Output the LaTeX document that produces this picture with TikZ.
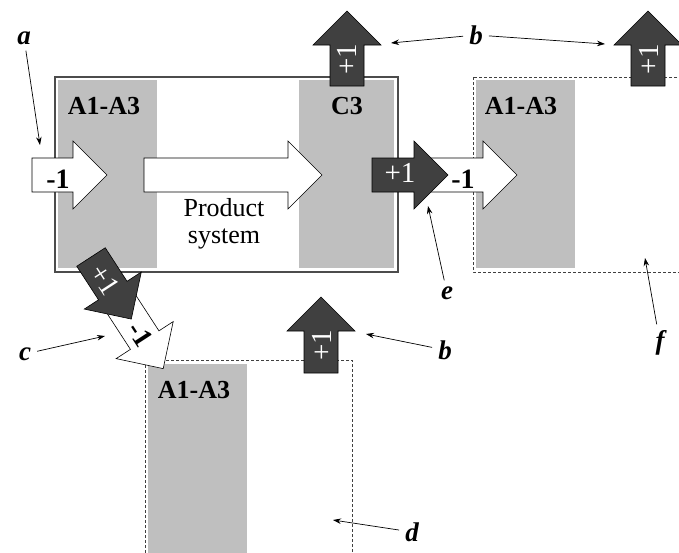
\documentclass[tikz,border=0pt]{standalone}
\usepackage{fontspec}
\setmainfont{Liberation Serif}
\usetikzlibrary{arrows.meta}

% block arrow: style, tail point, angle, shaft length
\newcommand{\blockarrow}[4]{%
  \path[#1, shift={#2}, rotate=#3] (0,-17) -- (#4,-17) -- (#4,-34) -- ({#4+34},0)
    -- (#4,34) -- (#4,17) -- (0,17) -- cycle;}

\begin{document}
\begin{tikzpicture}[x=1pt, y=-1pt,
    mainbox/.style={draw=black!70, line width=1.1pt},
    nextbox/.style={draw=black!75, line width=0.8pt, dash pattern=on 3pt off 2pt},
    stagebox/.style={fill=gray!50},
    stagelabel/.style={font=\fontsize{26}{28}\selectfont\bfseries, inner sep=0pt},
    whitearrow/.style={fill=white, draw=black, line width=0.6pt},
    darkarrow/.style={fill=black!75, draw=black, line width=0.6pt},
    minuslabel/.style={font=\fontsize{28}{30}\selectfont\bfseries, inner sep=0pt},
    pluslabel/.style={font=\fontsize{29}{30}\selectfont, text=white, inner sep=0pt},
    note/.style={font=\fontsize{27}{30}\selectfont\bfseries\itshape, inner sep=6pt},
    pointer/.style={draw=black, line width=0.7pt, -{Stealth[length=8pt, width=5.5pt]}}]

    \useasboundingbox (0,0) rectangle (679,552);
    \clip (0,0) rectangle (679,552);

    % systems
    \draw [mainbox] (55,77) rectangle (398,272);
    \draw [nextbox] (473,77) rectangle (720,272);
    \draw [nextbox] (145,360) rectangle (352,600);

    % life cycle stages
    \fill [stagebox] (58,80) rectangle (157,268);
    \fill [stagebox] (299,80) rectangle (394,268);
    \fill [stagebox] (476,80) rectangle (575,268);
    \fill [stagebox] (148,364) rectangle (247,600);

    \node [stagelabel] (s1) at (104,106) {A1-A3};
    \node [stagelabel] (s2) at (347,106) {C3};
    \node [stagelabel] (s3) at (521,106) {A1-A3};
    \node [stagelabel] (s4) at (194,390) {A1-A3};

    \node [font=\fontsize{26}{27}\selectfont, align=center, inner sep=0pt] (prod) at (224,224) {Product\\system};

    % flows
    \blockarrow{whitearrow}{(32,175)}{0}{41}
    \blockarrow{whitearrow}{(144,175)}{0}{144}
    \blockarrow{whitearrow}{(420,175)}{0}{63}
    \blockarrow{darkarrow}{(372,175)}{0}{42}
    \blockarrow{darkarrow}{(347,86)}{90}{41}
    \blockarrow{darkarrow}{(648,86)}{90}{41}
    \blockarrow{darkarrow}{(321,373)}{90}{42}
    \blockarrow{whitearrow}{(118,299)}{-57}{49}
    \blockarrow{darkarrow}{(91,257)}{-57}{40}

    \node [minuslabel] (m1) at (58,179) {-1};
    \node [minuslabel] (m2) at (463,179) {-1};
    \node [minuslabel, rotate=-57] (m3) at (141,334) {-1};
    \node [pluslabel] (p1) at (400,173) {+1};
    \node [pluslabel, rotate=90] (p2) at (347,59) {+1};
    \node [pluslabel, rotate=90] (p3) at (649,59) {+1};
    \node [pluslabel, rotate=90] (p4) at (322,345) {+1};
    \node [pluslabel, rotate=-57] (p5) at (105,280) {+1};

    % annotations
    \node [note] (la) at (24,38) {a};
    \node [note] (lb) at (476,35) {b};
    \node [note] (lbb) at (445,350) {b};
    \node [note] (lc) at (25,354) {c};
    \node [note] (ld) at (412,532) {d};
    \node [note] (le) at (447,293) {e};
    \node [note] (lf) at (660,343) {f};

    \coordinate (ta) at (40,145);
    \coordinate (tb1) at (391,43);
    \coordinate (tb2) at (605,44);
    \coordinate (tbb) at (366,334);
    \coordinate (tc) at (105,336);
    \coordinate (td) at (333,520);
    \coordinate (te) at (428,206);
    \coordinate (tf) at (645,258);

    \draw [pointer] (la) -- (ta);
    \draw [pointer] (lb) -- (tb1);
    \draw [pointer] (lb) -- (tb2);
    \draw [pointer] (lbb) -- (tbb);
    \draw [pointer] (lc) -- (tc);
    \draw [pointer] (ld) -- (td);
    \draw [pointer] (le) -- (te);
    \draw [pointer] (lf) -- (tf);

\end{tikzpicture}
\end{document}
